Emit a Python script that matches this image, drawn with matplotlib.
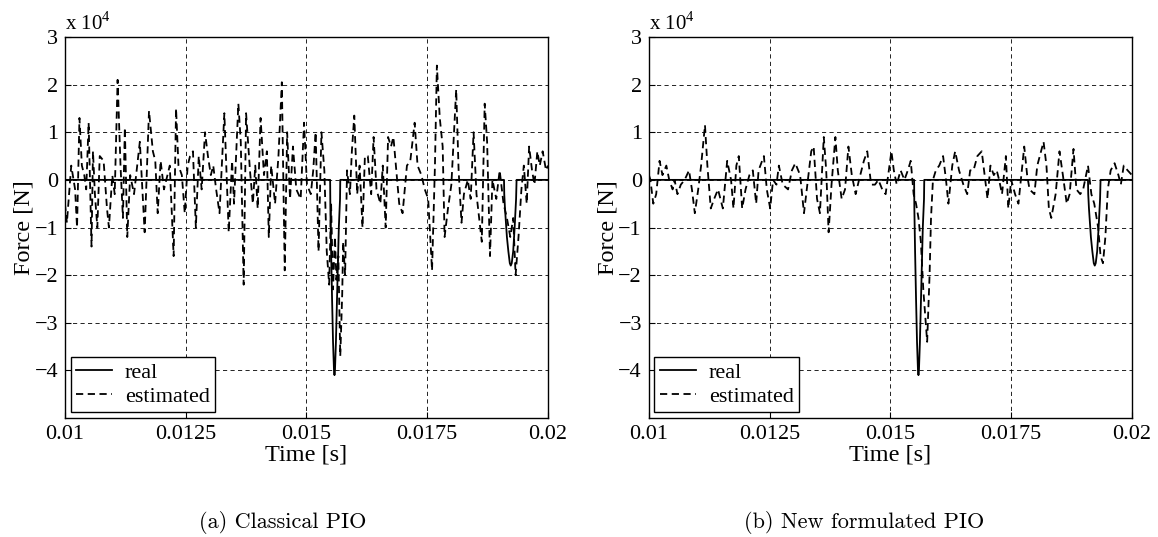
import numpy as np
import matplotlib
matplotlib.use('Agg')
import matplotlib.pyplot as plt

plt.rcParams['font.family'] = ['Liberation Serif', 'DejaVu Serif']
plt.rcParams['mathtext.fontset'] = 'custom'
plt.rcParams['mathtext.rm'] = 'Liberation Serif'

# force values are in units of 1e4 N
# real force (same for both panels)
t_real = [0.0100, 0.01549, 0.015495, 0.01551, 0.01553, 0.01555, 0.01557, 0.01558, 0.01559,
          0.01561, 0.01563, 0.01565, 0.01567, 0.015695, 0.0157,
          0.01909, 0.019095, 0.01911, 0.01913, 0.01915, 0.01918, 0.01921, 0.01923, 0.01925,
          0.01928, 0.01931, 0.01934, 0.019345, 0.01935, 0.0200]
f_real = [0.0, 0.0, -0.6, -1.5, -2.5, -3.4, -4.0, -4.1, -4.0,
          -3.4, -2.6, -1.8, -1.0, -0.4, 0.0,
          0.0, -0.3, -0.6, -0.9, -1.2, -1.5, -1.75, -1.8, -1.75,
          -1.5, -1.0, -0.4, -0.2, 0.0, 0.0]

# estimated force, classical PIO
t_est_a = [0.01000, 0.01004, 0.01013, 0.01021, 0.01025, 0.01030, 0.01035, 0.01040, 0.01044, 0.01049,
           0.01055, 0.01058, 0.01062, 0.01067, 0.01072, 0.01080, 0.01087, 0.01091, 0.01098, 0.01103,
           0.01109, 0.01115, 0.01120, 0.01124, 0.01129, 0.01135, 0.01143, 0.01155, 0.01165, 0.01174,
           0.01182, 0.01187, 0.01192, 0.01198, 0.01205, 0.01217, 0.01225, 0.01230, 0.01235, 0.01242,
           0.01248, 0.01254, 0.01259, 0.01265, 0.01271, 0.01277, 0.01283, 0.01290, 0.01296, 0.01302,
           0.01307, 0.01313, 0.01320, 0.01330, 0.01339, 0.01346, 0.01350, 0.01359, 0.01364, 0.01370,
           0.01375, 0.01383, 0.01389, 0.01394, 0.01399, 0.01405, 0.01412, 0.01418, 0.01422, 0.01427,
           0.01435, 0.01442, 0.01449, 0.01455, 0.01460, 0.01466, 0.01472, 0.01479, 0.01488, 0.01495,
           0.01501, 0.01509, 0.01514, 0.01519, 0.01525, 0.01531, 0.01537, 0.01542, 0.01547, 0.01551,
           0.01555, 0.01559, 0.01562, 0.01566, 0.01570, 0.01574, 0.01576, 0.01580, 0.01584, 0.01590,
           0.01594, 0.01599, 0.01605, 0.01610, 0.01616, 0.01621, 0.01627, 0.01634, 0.01639, 0.01645,
           0.01653, 0.01658, 0.01664, 0.01669, 0.01675, 0.01680, 0.01686, 0.01692, 0.01699, 0.01708,
           0.01715, 0.01724, 0.01730, 0.01738, 0.01745, 0.01752, 0.01760, 0.01766, 0.01770, 0.01776,
           0.01782, 0.01786, 0.01793, 0.01800, 0.01810, 0.01815, 0.01821, 0.01826, 0.01834, 0.01840,
           0.01846, 0.01852, 0.01863, 0.01869, 0.01874, 0.01880, 0.01885, 0.01893, 0.01900, 0.01908,
           0.01915, 0.01922, 0.01928, 0.01933, 0.01939, 0.01945, 0.01950, 0.01956, 0.01961, 0.01967,
           0.01972, 0.01978, 0.01983, 0.01989, 0.01996, 0.02000]
f_est_a = [-0.5, -0.9, 0.3, -0.2, -1.0, 1.3, 0.3, 0.1, -0.2, 1.2,
           -1.4, 0.6, -0.3, -1.0, 0.5, 0.4, -0.6, -1.0, 0.1, -0.3,
           2.1, 0.3, -0.8, 1.1, -1.2, 0.1, -0.3, 0.8, -1.1, 1.45,
           0.6, 0.4, -0.7, 0.4, -0.2, 0.3, -1.6, 1.5, 0.3, 0.1,
           -0.7, 0.3, 0.5, 0.6, -1.0, 0.5, -0.2, 1.0, 0.5, 0.1,
           0.3, -0.2, -0.7, 1.4, -1.1, 0.4, -0.5, 1.6, 0.8, -2.2,
           1.4, 0.2, -0.5, 0.3, -0.6, 1.3, 0.1, 0.6, -1.2, 0.3,
           -0.5, 0.5, 2.05, -1.9, 1.0, -0.4, 0.7, -0.2, -0.4, 1.2,
           -0.1, -0.3, 0.2, 1.0, -1.5, 1.0, 0.2, -1.5, -2.2, -0.5,
           -2.3, -1.2, -2.1, -1.6, -3.7, -2.4, -1.3, -2.0, 0.2, -0.3,
           0.6, 1.35, -0.3, 0.3, -1.0, 0.5, 0.5, -0.3, 0.9, -0.2,
           -0.5, 0.3, -1.0, 0.9, 0.7, 0.9, 0.2, -0.5, -0.7, 0.3,
           0.4, 1.2, 0.3, 0.1, -0.2, -0.4, -1.9, 0.3, 2.4, 1.3,
           0.7, -1.2, -0.6, -0.1, 1.9, 0.2, -0.9, -0.3, 0.0, -0.4,
           1.0, -0.3, -1.3, 1.6, 0.8, -1.6, 0.0, -0.4, 0.2, -0.5,
           -0.8, -1.2, -0.8, -2.0, -1.2, -0.2, 0.3, -0.5, 0.7, 0.2,
           -0.1, 0.6, 0.3, 0.6, 0.2, 0.3]

# estimated force, new formulated PIO
t_est_b = [0.01000, 0.01003, 0.01009, 0.01015, 0.01022, 0.01028, 0.01036, 0.01042, 0.01049, 0.01053,
           0.01059, 0.01066, 0.01074, 0.01083, 0.01089, 0.01095, 0.01102, 0.01108, 0.01116, 0.01121,
           0.01128, 0.01135, 0.01143, 0.01153, 0.01162, 0.01170, 0.01175, 0.01181, 0.01186, 0.01193,
           0.01200, 0.01208, 0.01215, 0.01222, 0.01227, 0.01238, 0.01244, 0.01251, 0.01257, 0.01264,
           0.01269, 0.01277, 0.01288, 0.01296, 0.01303, 0.01313, 0.01321, 0.01328, 0.01336, 0.01341,
           0.01348, 0.01354, 0.01362, 0.01367, 0.01372, 0.01378, 0.01386, 0.01391, 0.01399, 0.01406,
           0.01413, 0.01420, 0.01428, 0.01435, 0.01445, 0.01452, 0.01460, 0.01468, 0.01475, 0.01483,
           0.01490, 0.01502, 0.01507, 0.01513, 0.01521, 0.01529, 0.01536, 0.01542, 0.01548, 0.01553,
           0.01558, 0.01563, 0.01568, 0.01573, 0.01576, 0.01581, 0.01584, 0.01588, 0.01594, 0.01601,
           0.01609, 0.01615, 0.01620, 0.01628, 0.01634, 0.01642, 0.01651, 0.01659, 0.01665, 0.01672,
           0.01680, 0.01689, 0.01695, 0.01701, 0.01707, 0.01714, 0.01720, 0.01725, 0.01731, 0.01739,
           0.01744, 0.01750, 0.01758, 0.01765, 0.01777, 0.01783, 0.01788, 0.01798, 0.01804, 0.01817,
           0.01823, 0.01828, 0.01833, 0.01842, 0.01850, 0.01857, 0.01865, 0.01871, 0.01879, 0.01885,
           0.01893, 0.01899, 0.01909, 0.01916, 0.01922, 0.01930, 0.01935, 0.01940, 0.01945, 0.01950,
           0.01956, 0.01964, 0.01972, 0.01977, 0.01983, 0.01991, 0.02000]
f_est_b = [0.1, 0.0, -0.5, -0.3, 0.4, 0.1, 0.3, 0.0, -0.2, 0.0,
           -0.3, -0.1, 0.0, 0.2, -0.2, -0.7, -0.2, 0.3, 1.15, 0.3,
           -0.6, -0.4, -0.2, -0.6, 0.4, 0.0, -0.6, 0.3, 0.5, -0.6,
           -0.2, 0.1, 0.2, -0.5, 0.2, 0.5, -0.2, -0.6, 0.0, -0.1,
           0.3, -0.1, -0.2, 0.2, 0.35, 0.1, -0.7, -0.1, 0.6, 0.7,
           -0.4, -0.7, 0.9, 0.2, -1.1, -0.1, 0.9, 0.2, -0.4, -0.2,
           0.7, 0.1, -0.3, 0.0, 0.4, 0.6, -0.1, -0.1, 0.0, -0.2,
           -0.3, 0.6, 0.2, -0.1, 0.2, 0.0, 0.2, 0.4, -0.3, -0.5,
           -0.8, -1.3, -2.3, -3.0, -3.4, -2.0, -0.8, 0.0, 0.2, 0.3,
           0.5, 0.0, -0.5, 0.3, 0.6, 0.2, -0.1, -0.3, 0.2, 0.2,
           0.5, 0.6, 0.1, -0.4, 0.3, 0.1, 0.2, 0.0, -0.3, 0.5,
           -0.6, 0.0, -0.3, -0.5, 0.7, 0.1, -0.2, -0.3, 0.3, 0.8,
           0.3, -0.6, -0.8, -0.3, 0.6, 0.1, -0.5, -0.3, 0.65, -0.2,
           -0.3, -0.2, 0.3, -0.3, -0.5, -1.0, -1.6, -1.75, -1.2, -0.2,
           0.2, 0.35, 0.1, -0.1, 0.3, 0.2, 0.1]

xticks = [0.01, 0.0125, 0.015, 0.0175, 0.02]
xtick_labels = ['0.01', '0.0125', '0.015', '0.0175', '0.02']
yticks = [-4, -3, -2, -1, 0, 1, 2, 3]
captions = ['(a) Classical PIO', '(b) New formulated PIO']


def draw_panel(ax, t_est, f_est):
    ax.plot(t_real, f_real, color='black', lw=1.3, label='real')
    ax.plot(t_est, f_est, color='black', lw=1.3, linestyle=(0, (4, 2.5)), label='estimated')
    ax.set_xlim(0.01, 0.02)
    ax.set_ylim(-5, 3)
    ax.set_xticks(xticks)
    ax.set_xticklabels(xtick_labels)
    ax.set_yticks(yticks)
    ax.grid(True, color='black', linestyle=(0, (5, 4)), lw=0.6)
    ax.tick_params(direction='in', labelsize=16, length=4, pad=5)
    for s in ax.spines.values():
        s.set_linewidth(1.0)
    ax.set_xlabel('Time [s]', fontsize=17.5, labelpad=0.5)
    ax.set_ylabel('Force [N]', fontsize=17.5, labelpad=0)
    ax.text(0.0, 1.005, r'x 10$^{4}$', transform=ax.transAxes, fontsize=15, va='bottom', ha='left')
    leg = ax.legend(loc='lower left', fontsize=16, fancybox=False, framealpha=1,
                    edgecolor='black', handlelength=1.6, borderaxespad=0.25,
                    borderpad=0.25, labelspacing=0.15, handletextpad=0.6)
    leg.get_frame().set_linewidth(1.0)


def main():
    fig = plt.figure(figsize=(11.58, 5.37), dpi=100)
    ax1 = fig.add_axes([0.0561, 0.2216, 0.4171, 0.7095])
    ax2 = fig.add_axes([0.5604, 0.2216, 0.4171, 0.7095])
    draw_panel(ax1, t_est_a, f_est_a)
    draw_panel(ax2, t_est_b, f_est_b)

    fig.text(283 / 1158, 1 - 522 / 537, captions[0], fontsize=16, family='cmr10', ha='center', va='center')
    fig.text(864 / 1158, 1 - 522 / 537, captions[1], fontsize=16, family='cmr10', ha='center', va='center')

    fig.savefig('out.png', dpi=100)
    plt.close(fig)


if __name__ == '__main__':
    main()
